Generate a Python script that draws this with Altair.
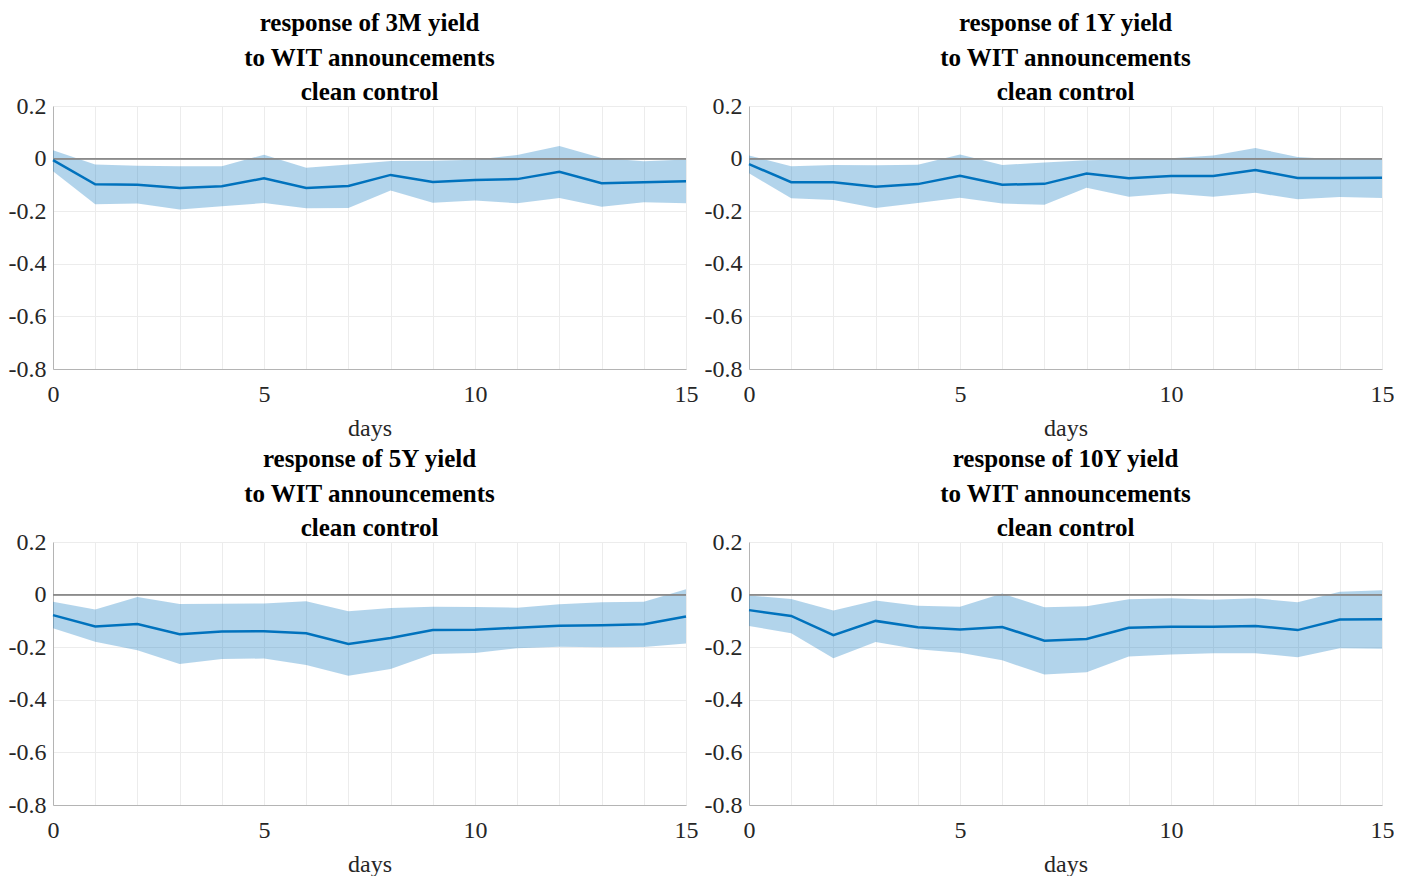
import altair as alt
import pandas as pd
import numpy as np

days = list(range(16))

titles = [
    ["response of 3M yield", "to WIT announcements", "clean control"],
    ["response of 1Y yield", "to WIT announcements", "clean control"],
    ["response of 5Y yield", "to WIT announcements", "clean control"],
    ["response of 10Y yield", "to WIT announcements", "clean control"],
]

m3_mean = [-0.006, -0.098, -0.099, -0.112, -0.105, -0.075, -0.112, -0.104, -0.062, -0.089, -0.081, -0.078, -0.050, -0.094, -0.090, -0.086]
m3_upper = [0.032, -0.022, -0.027, -0.029, -0.029, 0.015, -0.035, -0.022, -0.009, -0.008, -0.004, 0.014, 0.048, 0.002, -0.010, -0.003]
m3_lower = [-0.048, -0.174, -0.171, -0.194, -0.181, -0.169, -0.189, -0.188, -0.121, -0.168, -0.159, -0.170, -0.150, -0.183, -0.166, -0.170]

y1_mean = [-0.021, -0.090, -0.090, -0.107, -0.097, -0.065, -0.099, -0.096, -0.057, -0.075, -0.066, -0.066, -0.043, -0.074, -0.074, -0.073]
y1_upper = [0.012, -0.029, -0.024, -0.025, -0.023, 0.016, -0.024, -0.015, -0.006, -0.003, 0.001, 0.012, 0.040, 0.006, -0.003, 0.001]
y1_lower = [-0.056, -0.151, -0.157, -0.188, -0.169, -0.149, -0.171, -0.175, -0.111, -0.145, -0.133, -0.145, -0.130, -0.155, -0.146, -0.150]

y5_mean = [-0.078, -0.121, -0.112, -0.151, -0.140, -0.139, -0.147, -0.188, -0.165, -0.135, -0.134, -0.126, -0.118, -0.117, -0.113, -0.083]
y5_upper = [-0.027, -0.057, -0.009, -0.036, -0.035, -0.034, -0.025, -0.063, -0.051, -0.046, -0.047, -0.050, -0.037, -0.029, -0.027, 0.020]
y5_lower = [-0.128, -0.179, -0.212, -0.264, -0.245, -0.243, -0.268, -0.309, -0.283, -0.226, -0.222, -0.204, -0.198, -0.200, -0.199, -0.186]

y10_mean = [-0.059, -0.081, -0.154, -0.100, -0.124, -0.133, -0.123, -0.175, -0.169, -0.126, -0.122, -0.122, -0.119, -0.135, -0.095, -0.094]
y10_upper = [-0.003, -0.017, -0.060, -0.022, -0.042, -0.046, 0.004, -0.048, -0.044, -0.018, -0.014, -0.020, -0.014, -0.029, 0.011, 0.017]
y10_lower = [-0.119, -0.147, -0.242, -0.180, -0.208, -0.221, -0.250, -0.304, -0.295, -0.235, -0.228, -0.223, -0.223, -0.238, -0.204, -0.206]

x_ticks = days
y_ticks = [round(v, 2) for v in np.arange(-0.8, 0.2001, 0.05)]

FONT = "Liberation Serif"
BLUE = "#0072BD"
GRID = "#ececec"
AXIS = "#b4b4b4"


def panel(title, mean, lower, upper):
    df = pd.DataFrame({"day": days, "mean": mean, "lower": lower, "upper": upper})
    base = alt.Chart(df)
    x_axis = alt.Axis(
        values=x_ticks, grid=True, gridColor=GRID, ticks=False,
        labelExpr="datum.value % 5 == 0 ? datum.label : ''",
        labelFlush=False, labelOverlap=False, labelFont=FONT, labelFontSize=24,
        labelColor="#262626", labelPadding=13, domainColor=AXIS,
        titleFont=FONT, titleFontSize=24, titleFontWeight="normal",
        titleColor="#262626", titlePadding=10,
    )
    y_axis = alt.Axis(
        values=y_ticks, grid=True, gridColor=GRID, ticks=False,
        labelExpr="(round(datum.value*100) % 20 == 0) ? (round(datum.value*10) == 0 ? '0' : (datum.value < 0 ? '-' : '') + format(abs(datum.value), '.1f')) : ''",
        labelOverlap=False, labelFont=FONT, labelFontSize=24,
        labelColor="#262626", labelPadding=7, domainColor=AXIS,
        title=None,
    )
    xs = alt.X("day:Q", scale=alt.Scale(domain=[0, 15], nice=False), axis=x_axis, title="days")
    ys = alt.Scale(domain=[-0.8, 0.2], nice=False, zero=False)
    band = base.mark_area(color=BLUE, opacity=0.3).encode(
        x=xs, y=alt.Y("upper:Q", scale=ys, axis=y_axis), y2="lower:Q"
    )
    zero = base.mark_rule(color="#8c8c8c", strokeWidth=1).encode(y=alt.datum(0))
    line = base.mark_line(color=BLUE, strokeWidth=2.5).encode(x="day:Q", y="mean:Q")
    return alt.layer(band, zero, line).properties(
        width=633, height=263,
        title=alt.TitleParams(
            title, font=FONT, fontSize=25, fontWeight="bold", color="black",
            lineHeight=34.5, anchor="middle", offset=-11,
        ),
    )


p1 = panel(titles[0], m3_mean, m3_lower, m3_upper)
p2 = panel(titles[1], y1_mean, y1_lower, y1_upper)
p3 = panel(titles[2], y5_mean, y5_lower, y5_upper)
p4 = panel(titles[3], y10_mean, y10_lower, y10_upper)

chart = alt.vconcat(
    alt.hconcat(p1, p2, spacing=6),
    alt.hconcat(p3, p4, spacing=6),
    spacing=7,
).properties(padding={"left": 0, "top": 3, "right": 0, "bottom": 0}).configure_view(stroke=None)

chart.save("out.html", embed_options={"renderer": "svg", "actions": False})
